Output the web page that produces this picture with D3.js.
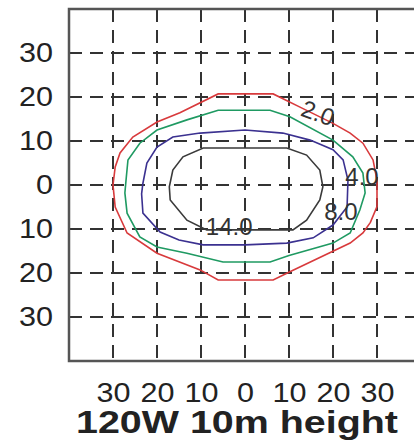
<!DOCTYPE html>
<html>
<head>
<meta charset="utf-8">
<script src="https://cdn.jsdelivr.net/npm/d3@7"></script>
<style>
  body { margin: 0; background: #fff; }
  svg { display: block; font-family: "Liberation Sans", Arial, sans-serif; }
</style>
</head>
<body>
<div id="graph"></div>
<script>
// data (metres from the pole, up = positive)
var xTicks = [-30, -20, -10, 0, 10, 20, 30];
var yTicks = [-30, -20, -10, 0, 10, 20, 30];
var levels = ["2.0", "4.0", "8.0", "14.0"];
var colors = ["#d83a3c", "#1f9a62", "#3b3190", "#3a3a3a"];

var lux2 = [[-6.1,20.7],[6.4,20.7],[12.5,17.7],[20,14],[23.9,11.8],[26.8,9.5],[29.1,5.7],[30,1.1],[30,-4.9],[28.5,-8.5],[26.8,-10.9],[23.9,-13.2],[10.2,-19.7],[6.4,-21.6],[-6.1,-21.6],[-10.2,-19.3],[-20,-15.5],[-26.8,-10.9],[-29.5,-5],[-30,0],[-29.5,4.1],[-28.4,7.3],[-25.5,10.9],[-20,14.3],[-14.8,16.4]];
var lux4 = [[-6.1,17],[5.7,17],[10.2,15.5],[20,10.2],[24.5,6.4],[26.8,2.7],[27.3,-1.8],[26.1,-5.7],[23.9,-10.9],[20,-13.2],[10,-16],[5.7,-17.5],[-5,-17.5],[-13.2,-15.5],[-20,-14.1],[-23.9,-11.8],[-26.8,-6.4],[-27.3,-1.8],[-27,1.5],[-26.6,5.7],[-23.9,9.5],[-20,12.5],[-13.2,14.8]];
var lux8 = [[-10.2,11.8],[0,12.5],[8.6,11.8],[14.8,10.2],[20,8],[22.3,5.7],[23.4,1.1],[23.2,-5],[20,-9.1],[15.5,-12],[9.5,-13.2],[0,-13.6],[-9.5,-13.6],[-15,-12.5],[-19.3,-10.7],[-23.2,-6.4],[-23.5,-2],[-23.2,0.4],[-22.3,5],[-20,8.6],[-16.4,10.9]];
var lux14 = [[-9.5,8.4],[9.5,8.4],[14,6.8],[17,3.4],[17.7,-0.4],[17,-3.4],[14,-8],[10.9,-10.2],[-8.7,-10.2],[-13.2,-8],[-17,-3.4],[-17.2,-0.4],[-16.4,3.4],[-14.1,6.4]];
var contours = [lux2, lux4, lux8, lux14];

// where the level numbers sit
var labelX = [16.6, 26.6, 21.8, -3.6];
var labelY = [16.4, 2.0, -5.9, -9.5];
var labelRot = [20, 0, 0, 0];

var title = "120W  10m height";

var width = 414, height = 443;

var svg = d3.select("#graph")
            .append("svg")
            .attr("width", width).attr("height", height);

// plot area spans -40..40 both ways, right edge runs off the picture
var xScale = d3.scaleLinear().domain([-40, 40]).range([69, 421]);
var yScale = d3.scaleLinear().domain([-40, 40]).range([361, 9]);

// dashed grid
svg.append("g").selectAll("line")
   .data(xTicks).enter().append("line")
   .attr("x1", function(d) { return xScale(d); })
   .attr("x2", function(d) { return xScale(d); })
   .attr("y1", yScale(40)).attr("y2", yScale(-40))
   .attr("stroke", "#333").attr("stroke-width", 2)
   .attr("stroke-dasharray", "13,8");

svg.append("g").selectAll("line")
   .data(yTicks).enter().append("line")
   .attr("y1", function(d) { return yScale(d); })
   .attr("y2", function(d) { return yScale(d); })
   .attr("x1", xScale(-40)).attr("x2", xScale(40))
   .attr("stroke", "#333").attr("stroke-width", 2)
   .attr("stroke-dasharray", "13,8");

// frame
svg.append("rect")
   .attr("x", xScale(-40)).attr("y", yScale(40))
   .attr("width", xScale(40) - xScale(-40))
   .attr("height", yScale(-40) - yScale(40))
   .attr("fill", "none").attr("stroke", "#555").attr("stroke-width", 2.5);

// iso-lux lines
var line = d3.line()
   .x(function(d) { return xScale(d[0]); })
   .y(function(d) { return yScale(d[1]); })
   .curve(d3.curveLinearClosed);

svg.append("g").selectAll("path")
   .data(contours).enter().append("path")
   .attr("d", line)
   .attr("fill", "none")
   .attr("stroke", function(d, i) { return colors[i]; })
   .attr("stroke-width", 1.6);

svg.append("g").selectAll("text")
   .data(levels).enter().append("text")
   .attr("transform", function(d, i) {
     return "translate(" + xScale(labelX[i]) + "," + yScale(labelY[i]) + ") rotate(" + labelRot[i] + ")";
   })
   .attr("text-anchor", "middle")
   .attr("dy", "0.36em")
   .attr("font-size", 24)
   .attr("fill", "#333")
   .text(function(d) { return d; });

// axes: labels only, absolute distances
var yAxis = d3.axisLeft(yScale).tickValues(yTicks)
   .tickFormat(function(d) { return Math.abs(d); })
   .tickSize(0).tickPadding(16);
var xAxis = d3.axisBottom(xScale).tickValues(xTicks)
   .tickFormat(function(d) { return Math.abs(d); })
   .tickSize(0).tickPadding(22);

var gy = svg.append("g")
   .attr("transform", "translate(" + xScale(-40) + ",0)")
   .call(yAxis);
var gx = svg.append("g")
   .attr("transform", "translate(0," + yScale(-40) + ")")
   .call(xAxis);

[gx, gy].forEach(function(g) {
  g.select(".domain").remove();
  g.selectAll("text")
   .attr("font-family", "'Liberation Sans', Arial, sans-serif")
   .attr("font-size", 27)
   .attr("fill", "#222")
   .attr("textLength", function(d) { return String(Math.abs(d)).length * 17; })
   .attr("lengthAdjust", "spacingAndGlyphs");
});

svg.append("text")
   .attr("x", 237).attr("y", 433)
   .attr("text-anchor", "middle")
   .attr("font-size", 32).attr("font-weight", "bold")
   .attr("fill", "#222")
   .attr("textLength", 322).attr("lengthAdjust", "spacingAndGlyphs")
   .text(title);
</script>
</body>
</html>
